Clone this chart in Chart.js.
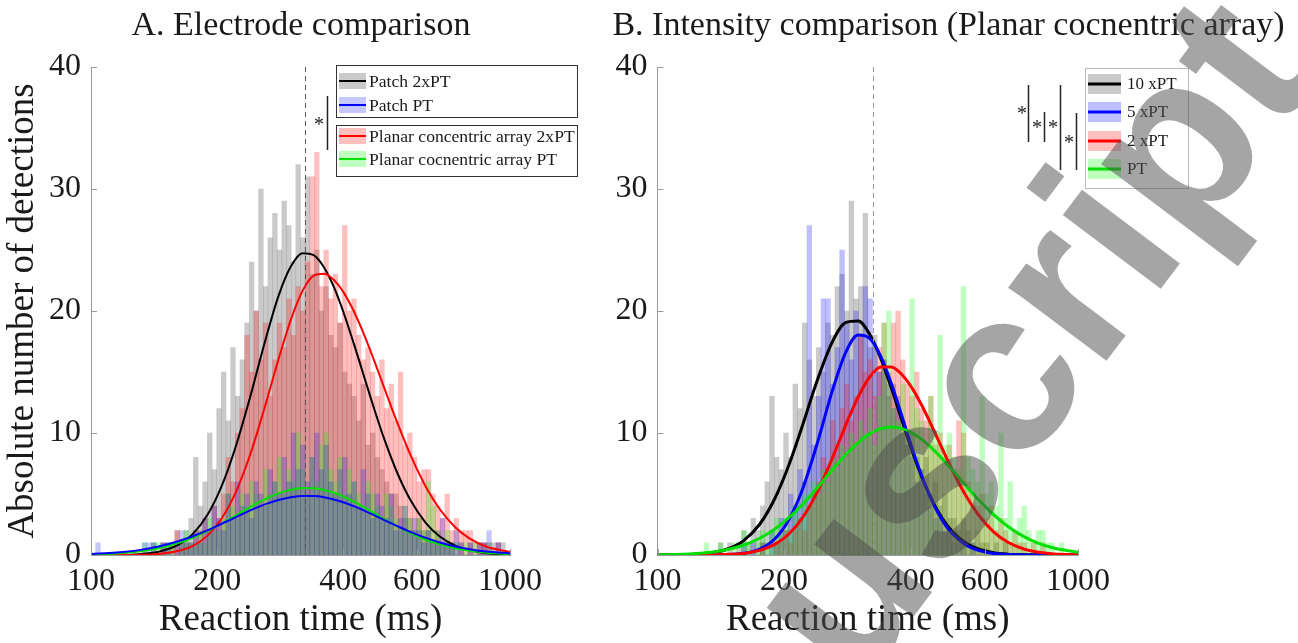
<!DOCTYPE html>
<html>
<head>
<meta charset="utf-8">
<script src="https://cdn.jsdelivr.net/npm/chart.js@4.4.0/dist/chart.umd.min.js"></script>
<style>
  html, body { margin: 0; padding: 0; background: #fff; }
  #wrap { position: relative; width: 1298px; height: 643px; overflow: hidden; background: #fff; }
  #chartA { position: absolute; left: 0; top: 0; }
  #chartB { position: absolute; left: 560px; top: 0; }
</style>
</head>
<body>
<div id="wrap">
  <canvas id="chartA" width="650" height="643"></canvas>
  <canvas id="chartB" width="738" height="643"></canvas>
</div>
<script>
const SERIF = "'Liberation Serif', 'Times New Roman', serif";

// histogram bins: 90 log-spaced bins between 100 and 1000 ms
const NBINS = 90;
const binCenters = Array.from({ length: NBINS }, (_, i) => 100 * Math.pow(10, (i + 0.5) / NBINS));

const xTicks = [100, 200, 400, 600, 1000];
const yTicks = [0, 10, 20, 30, 40];
const medianMs = 325;

// ---- panel A: counts per bin ----
const patch2xCounts = [
  0,0,0,0,0,0,0,0,0,0,0,0,
  0,1,0,1,1,1,2,1,2,3,8,4,
  6,10,7,12,15,11,17,13,16,19,24,20,
  30,22,26,28,25,29,27,24,32,26,31,23,
  25,20,22,18,17,19,15,14,13,11,14,9,
  10,8,7,6,5,5,4,3,3,2,3,2,
  2,1,2,1,1,1,0,1,0,1,0,1,
  1,0,1,1,1,0
];
const patchCounts = [
  0,1,0,0,0,0,0,0,0,0,
  0,1,1,1,0,1,1,0,1,2,1,1,
  2,1,3,2,4,3,2,5,3,6,4,5,
  3,6,5,4,7,6,5,8,6,10,7,9,
  6,8,10,7,9,6,5,7,8,5,6,4,
  7,5,3,5,4,3,5,2,3,4,2,3,
  2,1,2,1,1,3,1,1,2,1,0,1,
  0,1,1,2,0,1,0,0
];
const planar2xCounts = [
  0,0,0,0,0,0,0,0,0,0,0,0,0,0,
  0,1,0,1,2,1,1,1,2,2,3,2,
  4,3,5,8,6,10,12,18,15,20,16,19,
  13,16,19,17,21,18,22,20,24,31,33,22,
  25,21,23,19,27,20,21,18,16,17,15,13,
  16,12,14,11,15,9,10,8,6,7,7,5,
  4,3,5,2,3,2,2,2,1,1,1,1,
  0,1,0,0
];
const planarCounts = [
  0,0,0,0,0,0,0,0,0,0,0,
  1,0,1,1,0,1,1,0,1,2,1,1,
  2,1,3,2,2,3,5,4,3,5,4,6,
  5,4,7,5,6,8,5,7,6,10,7,5,
  8,6,9,10,7,6,8,5,7,6,5,4,
  6,5,4,3,5,4,3,2,4,3,2,3,
  2,6,4,2,1,2,1,1,0,1,0,1,
  0,0,1,0,0,0,0
];

// ---- panel B: counts per bin ----
const pt10Counts = [
  0,0,0,0,0,0,0,0,0,0,0,0,0,
  1,0,1,0,1,2,1,3,2,4,6,13,
  8,7,10,8,14,12,19,16,13,17,15,19,
  18,22,23,20,29,21,22,28,17,18,15,16,
  13,14,12,11,9,10,8,7,8,5,6,4,
  5,3,3,2,3,2,1,2,1,1,0,1,
  0,1,0,0,0,0,0,0,0,0,0,0,0,0,0,0,0
];
const pt5Counts = [
  0,0,0,0,0,0,0,0,0,0,0,0,0,0,0,0,0,0,
  1,0,1,0,1,0,2,1,3,2,5,4,
  7,6,27,9,13,21,21,14,17,25,19,16,
  20,18,22,21,17,15,16,14,12,13,10,9,
  8,6,7,5,4,3,3,2,2,1,1,1,
  0,1,0,0,0,0,0,0,0,0,0,0,0,0,0,0,0,0,0,0,0,0,0,0
];
const pt2Counts = [
  0,0,0,0,0,0,0,0,0,0,0,0,0,0,0,0,0,0,0,0,0,0,
  1,0,0,1,1,2,1,2,3,2,4,5,
  6,8,7,11,9,12,14,11,13,18,15,16,
  13,17,19,15,19,20,16,14,13,15,12,11,
  13,9,10,8,9,7,11,10,6,5,4,5,
  3,4,2,3,2,1,2,1,1,0,1,0,
  1,0,0,0,0,0,0,0
];
const pt1Counts = [
  0,0,0,0,0,0,0,0,0,0,
  1,0,0,1,0,0,1,0,2,1,0,1,
  2,1,2,3,2,3,2,4,3,5,4,6,
  5,7,6,8,7,9,8,10,9,11,10,12,
  9,13,19,20,12,11,14,10,21,12,11,9,
  13,10,18,9,10,8,7,22,8,7,6,13,
  5,6,4,10,3,6,2,3,4,2,1,2,
  2,1,1,0,1,0,0,0
];

// ---- fitted curves, read at these reaction times (ms) ----
const curveMs = [100,115,130,145,160,175,190,205,220,240,260,280,300,320,340,360,380,400,425,450,475,500,540,580,630,680,740,800,880,1000];

const fitPatch2x  = [0,0.01,0.07,0.27,0.76,1.73,3.34,5.65,8.57,13.0,17.46,21.2,23.66,24.74,24.57,23.56,21.95,19.94,17.2,14.47,11.89,9.6,6.62,4.44,2.62,1.51,0.76,0.38,0.15,0.04];
const fitPatch    = [0.08,0.2,0.4,0.7,1.09,1.54,2.04,2.56,3.05,3.66,4.15,4.51,4.74,4.84,4.83,4.73,4.55,4.32,3.99,3.62,3.25,2.88,2.35,1.88,1.4,1.03,0.7,0.48,0.28,0.13];
const fitPlanar2x = [0,0,0.02,0.09,0.3,0.75,1.61,2.99,4.91,8.26,12.15,16.0,19.3,21.67,22.9,23.05,22.54,21.57,19.9,17.94,15.85,13.78,10.72,8.12,5.58,3.75,2.28,1.37,0.68,0.24];
const fitPlanar   = [0.04,0.12,0.28,0.55,0.93,1.41,1.97,2.57,3.17,3.93,4.57,5.05,5.35,5.49,5.47,5.33,5.1,4.79,4.35,3.88,3.41,2.96,2.32,1.78,1.25,0.87,0.55,0.35,0.19,0.07];

const fit10 = [0,0.02,0.12,0.43,1.16,2.52,4.61,7.32,10.37,14.34,17.41,19.05,19.18,18.06,16.08,13.68,11.19,8.88,6.4,4.47,3.03,2.01,1.01,0.49,0.19,0.07,0.02,0.01,0,0];
const fit5  = [0,0,0,0.03,0.14,0.49,1.31,2.85,5.16,9.19,13.37,16.57,18.03,17.74,16.24,14.04,11.55,9.12,6.47,4.4,2.88,1.83,0.85,0.38,0.13,0.04,0.01,0,0,0];
const fit2  = [0,0,0,0.04,0.13,0.38,0.87,1.7,2.94,5.18,7.88,10.61,12.95,14.61,15.42,15.41,14.84,13.86,12.27,10.51,8.75,7.11,4.91,3.28,1.9,1.06,0.51,0.24,0.09,0.02];
const fit1  = [0.02,0.06,0.18,0.41,0.8,1.37,2.12,3.04,4.06,5.52,6.94,8.21,9.22,9.95,10.37,10.5,10.38,10.07,9.48,8.73,7.9,7.04,5.72,4.53,3.31,2.36,1.55,1.0,0.55,0.22];

const GREY_F = 'rgba(128,128,128,0.42)';
const BLUE_F = 'rgba(0,0,255,0.22)';
const RED_F = 'rgba(255,0,0,0.25)';
const GREEN_F = 'rgba(0,255,0,0.25)';

function bars(label, counts, color, order) {
  return {
    type: 'bar', label, order,
    data: counts.map((c, i) => ({ x: binCenters[i], y: c })),
    backgroundColor: color, borderWidth: 0,
    barPercentage: 1, categoryPercentage: 1, grouped: false
  };
}

function fit(label, vals, color, width, order) {
  return {
    type: 'line', label, order,
    data: vals.map((v, i) => ({ x: curveMs[i], y: v })),
    borderColor: color, borderWidth: width, pointRadius: 0,
    cubicInterpolationMode: 'monotone', fill: false
  };
}

function scales(yWidth, yTitle) {
  return {
    x: {
      type: 'logarithmic', min: 100, max: 1000, offset: false,
      afterBuildTicks: s => { s.ticks = xTicks.map(v => ({ value: v })); },
      afterFit: s => { s.height = 88; },
      ticks: {
        callback: v => String(v), autoSkip: false, maxRotation: 0,
        font: { family: SERIF, size: 32 }, color: '#1a1a1a', padding: 7
      },
      grid: { display: false, drawTicks: false },
      border: { display: true, color: '#9a9a9a' },
      title: {
        display: true, text: 'Reaction time (ms)', color: '#1a1a1a',
        font: { family: SERIF, size: 37 }, padding: { top: 0, bottom: 1 }
      }
    },
    y: {
      min: 0, max: 40,
      afterBuildTicks: s => { s.ticks = yTicks.map(v => ({ value: v })); },
      afterFit: s => { s.width = yWidth; },
      ticks: { font: { family: SERIF, size: 32 }, color: '#1a1a1a', padding: 10 },
      grid: { display: false, drawTicks: false },
      border: { display: true, color: '#9a9a9a' },
      title: {
        display: !!yTitle, text: yTitle || '', color: '#1a1a1a',
        font: { family: SERIF, size: 37 }, padding: { top: 1, bottom: 0 }
      }
    }
  };
}

function drawAxesDecor(chart, dashColor) {
  const { ctx, chartArea: { left, top, bottom }, scales: { x, y } } = chart;
  ctx.save();
  // inward tick marks
  ctx.strokeStyle = '#9a9a9a';
  ctx.lineWidth = 1;
  xTicks.forEach(v => {
    const px = Math.round(x.getPixelForValue(v)) + 0.5;
    ctx.beginPath(); ctx.moveTo(px, bottom); ctx.lineTo(px, bottom - 6); ctx.stroke();
  });
  yTicks.forEach(v => {
    const py = Math.round(y.getPixelForValue(v)) + 0.5;
    ctx.beginPath(); ctx.moveTo(left, py); ctx.lineTo(left + 6, py); ctx.stroke();
  });
  // median reaction time
  const mx = Math.round(x.getPixelForValue(medianMs)) + 0.5;
  ctx.strokeStyle = dashColor;
  ctx.setLineDash([5, 4]);
  ctx.beginPath(); ctx.moveTo(mx, top); ctx.lineTo(mx, bottom); ctx.stroke();
  ctx.restore();
}

function drawLegend(ctx, box, entries, opt) {
  ctx.save();
  ctx.fillStyle = '#fff';
  ctx.fillRect(box.x, box.y, box.w, box.h);
  ctx.strokeStyle = opt.border;
  ctx.lineWidth = 1;
  ctx.strokeRect(box.x + 0.5, box.y + 0.5, box.w, box.h);
  entries.forEach(e => {
    ctx.fillStyle = e.fill;
    ctx.fillRect(opt.px, e.cy - opt.ph / 2, opt.pw, opt.ph);
    ctx.strokeStyle = e.line;
    ctx.lineWidth = opt.lw;
    ctx.beginPath(); ctx.moveTo(opt.px, e.cy); ctx.lineTo(opt.px + opt.pw, e.cy); ctx.stroke();
    ctx.fillStyle = '#1a1a1a';
    ctx.font = opt.fs + 'px ' + SERIF;
    ctx.textBaseline = 'middle';
    ctx.textAlign = 'left';
    ctx.fillText(e.text, opt.tx, e.cy + 1);
  });
  ctx.restore();
}

function sigBar(ctx, x, y1, y2, sx, sy) {
  ctx.save();
  ctx.strokeStyle = '#222';
  ctx.lineWidth = 1.5;
  ctx.beginPath(); ctx.moveTo(x, y1); ctx.lineTo(x, y2); ctx.stroke();
  ctx.fillStyle = '#222';
  ctx.font = '20px ' + SERIF;
  ctx.textAlign = 'center';
  ctx.textBaseline = 'middle';
  ctx.fillText('*', sx, sy + 4);
  ctx.restore();
}

// "Manuscript" stamp laid over the right panel, positioned by the centre of its "s"
function drawStamp(ctx, ox) {
  const size = 232;
  ctx.save();
  ctx.font = "bold " + size + "px 'Liberation Sans', Arial, sans-serif";
  const pre = ctx.measureText('Manu').width;
  const sw = ctx.measureText('s').width;
  ctx.translate(932 - ox, 492);
  ctx.rotate(-53 * Math.PI / 180);
  ctx.textAlign = 'left';
  ctx.textBaseline = 'alphabetic';
  ctx.fillStyle = 'rgba(75,75,75,0.5)';
  ctx.fillText('Manuscript', -(pre + sw / 2), size * 0.26);
  ctx.restore();
}

const decorA = {
  id: 'decorA',
  afterDraw(chart) {
    const ctx = chart.ctx;
    drawAxesDecor(chart, '#555');
    ctx.save();
    ctx.fillStyle = '#1a1a1a';
    ctx.font = '34px ' + SERIF;
    ctx.textAlign = 'center';
    ctx.fillText('A. Electrode comparison', 301, 35);
    ctx.restore();
    const opt = { border: '#333', px: 339, pw: 27, ph: 16, lw: 2, tx: 369, fs: 17.6 };
    drawLegend(ctx, { x: 336, y: 65, w: 241, h: 52 }, [
      { text: 'Patch 2xPT', fill: GREY_F, line: '#000', cy: 81 },
      { text: 'Patch PT', fill: BLUE_F, line: '#0000ff', cy: 105 }
    ], opt);
    drawLegend(ctx, { x: 336, y: 125, w: 241, h: 51 }, [
      { text: 'Planar concentric array 2xPT', fill: RED_F, line: '#ff0000', cy: 136 },
      { text: 'Planar cocnentric array PT', fill: GREEN_F, line: '#00e000', cy: 159 }
    ], opt);
    sigBar(ctx, 327.5, 96, 150, 319, 122);
  }
};

const decorB = {
  id: 'decorB',
  afterDraw(chart) {
    const ctx = chart.ctx;
    const ox = 560;
    drawAxesDecor(chart, '#999');
    ctx.save();
    ctx.fillStyle = '#1a1a1a';
    ctx.font = '34px ' + SERIF;
    ctx.textAlign = 'center';
    ctx.fillText('B. Intensity comparison (Planar cocnentric array)', 948.5 - ox, 35);
    ctx.restore();
    const opt = { border: '#bbb', px: 1088 - ox, pw: 33, ph: 20, lw: 3, tx: 1127 - ox, fs: 17 };
    drawLegend(ctx, { x: 1085 - ox, y: 68, w: 103, h: 120 }, [
      { text: '10 xPT', fill: GREY_F, line: '#000', cy: 84 },
      { text: '5 xPT', fill: 'rgba(0,0,255,0.25)', line: '#0000ff', cy: 112 },
      { text: '2 xPT', fill: RED_F, line: '#ff0000', cy: 141 },
      { text: 'PT', fill: GREEN_F, line: '#00e000', cy: 169 }
    ], opt);
    sigBar(ctx, 1028.5 - ox, 85, 142, 1022 - ox, 111);
    sigBar(ctx, 1044.5 - ox, 112, 142, 1037 - ox, 125);
    sigBar(ctx, 1060.5 - ox, 85, 170, 1053 - ox, 125);
    sigBar(ctx, 1076.5 - ox, 113, 170, 1069 - ox, 140);
    drawStamp(ctx, ox);
  }
};

const common = {
  responsive: false,
  animation: false,
  devicePixelRatio: 1,
  plugins: { legend: { display: false }, tooltip: { enabled: false } }
};

new Chart(document.getElementById('chartA'), {
  type: 'bar',
  data: {
    datasets: [
      fit('Patch PT fit', fitPatch, '#0000ff', 2, 1),
      fit('Planar PT fit', fitPlanar, '#00e000', 2, 2),
      fit('Planar 2xPT fit', fitPlanar2x, '#ff0000', 2, 3),
      fit('Patch 2xPT fit', fitPatch2x, '#000000', 2, 4),
      bars('Patch PT', patchCounts, BLUE_F, 5),
      bars('Planar cocnentric array PT', planarCounts, GREEN_F, 6),
      bars('Planar concentric array 2xPT', planar2xCounts, RED_F, 7),
      bars('Patch 2xPT', patch2xCounts, GREY_F, 8)
    ]
  },
  options: Object.assign({}, common, {
    layout: { padding: { left: 0, top: 67, right: 140, bottom: 0 } },
    scales: scales(91, 'Absolute number of detections')
  }),
  plugins: [decorA]
});

new Chart(document.getElementById('chartB'), {
  type: 'bar',
  data: {
    datasets: [
      fit('PT fit', fit1, '#00e000', 3, 1),
      fit('2 xPT fit', fit2, '#ff0000', 3, 2),
      fit('5 xPT fit', fit5, '#0000ff', 3, 3),
      fit('10 xPT fit', fit10, '#000000', 3, 4),
      bars('PT', pt1Counts, GREEN_F, 5),
      bars('2 xPT', pt2Counts, RED_F, 6),
      bars('5 xPT', pt5Counts, 'rgba(0,0,255,0.25)', 7),
      bars('10 xPT', pt10Counts, GREY_F, 8)
    ]
  },
  options: Object.assign({}, common, {
    layout: { padding: { left: 0, top: 67, right: 220, bottom: 0 } },
    scales: scales(97.5, null)
  }),
  plugins: [decorB]
});
</script>
</body>
</html>
